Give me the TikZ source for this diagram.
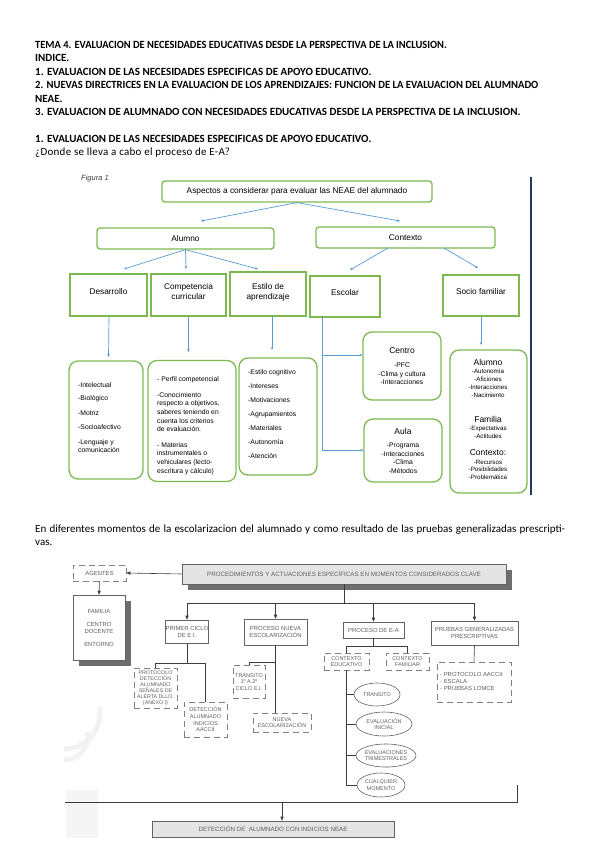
\documentclass[tikz,border=0pt]{standalone}
\usepackage{fontspec}
\usepackage{graphicx}
\setmainfont{Carlito}
\newfontfamily\arial{Liberation Sans}
\newfontfamily\carlsp[LetterSpace=2.5]{Carlito}
\usetikzlibrary{arrows.meta,shapes.geometric,shadows}
\definecolor{gr}{RGB}{125,185,80}
\definecolor{bl}{RGB}{91,155,213}
\definecolor{nv}{RGB}{31,56,100}
\definecolor{txtwo}{RGB}{95,95,95}
\definecolor{lntwo}{RGB}{60,60,60}
\definecolor{filltwo}{RGB}{228,228,228}
\definecolor{shd}{RGB}{110,110,110}
\begin{document}
\begin{tikzpicture}[x=1pt,y=-1pt,
  wh/.style args={#1/#2}{minimum width=#1pt, minimum height=#2pt},
  hdr/.style={anchor=base west, inner sep=0, font=\bfseries\fontsize{11}{13}\selectfont},
  body/.style={anchor=base west, inner sep=0, font=\fontsize{11}{13}\selectfont},
  gbox/.style={draw=gr, line width=1.3pt, rounded corners=3pt, inner sep=0, font=\arial\fontsize{8.3}{10}\selectfont},
  sbox/.style={draw=gr, line width=1.3pt, inner sep=0},
  lbox/.style={draw=gr, line width=1.3pt, rounded corners=9pt, inner sep=0},
  ttl/.style={inner sep=0, align=center, font=\arial\fontsize{8.3}{10}\selectfont},
  item/.style={anchor=base west, inner sep=0, font=\arial\fontsize{6.8}{8}\selectfont},
  citem/.style={anchor=base, inner sep=0, font=\arial\fontsize{6.8}{8}\selectfont},
  sitem/.style={anchor=base, inner sep=0, font=\arial\fontsize{6.2}{8}\selectfont},
  ctitle/.style={anchor=base, inner sep=0, font=\arial\fontsize{8.5}{10}\selectfont},
  barrow/.style={draw=bl, line width=0.7pt, -{Stealth[length=3pt,width=2.6pt]}},
  bline/.style={draw=bl, line width=0.7pt},
  dtwo/.style={draw=lntwo!80, line width=0.6pt, fill=white, inner sep=0, align=center, text=txtwo, font=\arial\fontsize{5.9}{7}\selectfont},
  dsmall/.style={dtwo, font=\arial\fontsize{5.5}{6.6}\selectfont},
  dashbx/.style={dsmall, draw=gray, dash pattern=on 6pt off 4pt},
  ell/.style={ellipse, dsmall},
  lntw/.style={draw=lntwo, line width=0.6pt},
  arrtw/.style={lntw, -{Triangle[length=4pt,width=3.2pt]}},
  shad/.style={drop shadow={shadow xshift=6pt, shadow yshift=-6pt, fill=shd, opacity=1}},
]
\useasboundingbox (0,0) rectangle (599,848);
\fill[white] (0,0) rectangle (599,848);

% ---------- header ----------
\node[hdr] (h1) at (35,48.5) {\scalebox{0.95}[1]{TEMA 4. EVALUACION DE NECESIDADES EDUCATIVAS DESDE LA PERSPECTIVA DE LA INCLUSION.}};
\node[hdr] (h2) at (35,61.9) {INDICE.};
\node[hdr] (h3) at (35,75.3) {1. EVALUACION DE LAS NECESIDADES ESPECIFICAS DE APOYO EDUCATIVO.};
\node[hdr] (h4) at (35,88.7) {\scalebox{0.965}[1]{2. NUEVAS DIRECTRICES EN LA EVALUACION DE LOS APRENDIZAJES: FUNCION DE LA EVALUACION DEL ALUMNADO}};
\node[hdr] (h5) at (35,102.1) {NEAE.};
\node[hdr] (h6) at (35,115.5) {3. EVALUACION DE ALUMNADO CON NECESIDADES EDUCATIVAS DESDE LA PERSPECTIVA DE LA INCLUSION.};
\node[hdr] (h7) at (35,142.3) {1. EVALUACION DE LAS NECESIDADES ESPECIFICAS DE APOYO EDUCATIVO.};
\node[body, font=\carlsp\fontsize{11}{13}\selectfont] (h8) at (35,155.7) {¿Donde se lleva a cabo el proceso de E-A?};

% ---------- figure 1 ----------
\node[anchor=base west, inner sep=0, text=lntwo, font=\arial\itshape\fontsize{7.5}{9}\selectfont] (fig) at (81,180.5) {Figura 1};
\node[gbox, wh=270/21] (top) at (297,191.5) {Aspectos a considerar para evaluar las NEAE del alumnado};
\node[gbox, wh=177/21] (alumno) at (185.5,238.5) {Alumno};
\node[gbox, wh=179/21] (contexto) at (405.5,237.5) {Contexto};

\node[sbox, wh=77/42] (des) at (108.5,295) {};
\node[ttl] (desT) at (108.5,292) {Desarrollo};
\node[sbox, wh=75/42] (comp) at (188.5,295) {};
\node[ttl] (compT) at (188.5,292) {Competencia\\curricular};
\node[sbox, wh=76/44] (est) at (268,294) {};
\node[ttl] (estT) at (268,292) {Estilo de\\aprendizaje};
\node[sbox, wh=70/41] (esc) at (345,296.5) {};
\node[ttl] (escT) at (345,293) {Escolar};
\node[sbox, wh=76/41] (soc) at (481,295.5) {};
\node[ttl] (socT) at (481,292) {Socio familiar};

\coordinate (a1) at (201,221); \coordinate (a2) at (400,221);
\draw[barrow] (top.south) -- (a1);
\draw[barrow] (top.south) -- (a2);
\coordinate (a3) at (124,269); \coordinate (a4) at (186,269); \coordinate (a5) at (258,269);
\draw[barrow] (alumno.south) -- (a3);
\draw[barrow] (alumno.south) -- (a4);
\draw[barrow] (alumno.south) -- (a5);
\coordinate (c1) at (388,248); \coordinate (a6) at (350,270);
\coordinate (c2) at (444,248); \coordinate (a7) at (478,268);
\draw[barrow] (c1) -- (a6);
\draw[barrow] (c2) -- (a7);

% list boxes
\node[lbox, wh=74/118] (ldes) at (106,420) {};
\node[lbox, wh=88/121] (lcomp) at (192,421) {};
\node[lbox, wh=78/117] (lest) at (278,416.5) {};
\node[lbox, wh=78/68] (centro) at (402,366) {};
\node[lbox, wh=78/63] (aula) at (403,450.5) {};
\node[lbox, wh=77/143] (lsoc) at (488.5,421.5) {};

\coordinate (a8) at (108.5,357);
\draw[barrow] ([xshift=0.5pt]des.south) -- (a8);
\coordinate (a9) at (188.5,352);
\draw[barrow] (comp.south) -- (a9);
\coordinate (s10) at (272,316); \coordinate (a10) at (272,350);
\draw[barrow] (s10) -- (a10);
\coordinate (a11) at (481,345);
\draw[barrow] (soc.south) -- (a11);
\coordinate (e0) at (322,317); \coordinate (e1) at (322,355); \coordinate (e2) at (322,450);
\draw[bline] (e0) -- (e2);
\draw[barrow] (e1) -- (e1 -| centro.west);
\draw[barrow] (e2) -- (e2 -| aula.west);

\foreach \y/\t [count=\i] in {385/-Intelectual, 398/-Biológico, 413/-Motriz, 427/-Socioafectivo, 442/-Lenguaje y, 450/comunicación}
  \node[item] (ld\i) at (78,\y+2.5) {\t};
\foreach \y/\t [count=\i] in {379/- Perfil competencial, 395/-Conocimiento, 403/{respecto a objetivos,}, 412/saberes teniendo en, 421/cuenta los criterios, 429/de evaluación., 445/- Materias, 453/instrumentales o, 462/vehiculares (lecto-, 471/escritura y cálculo)}
  \node[item] (lc\i) at (157,\y+2.5) {\t};
\foreach \y/\t [count=\i] in {372/-Estilo cognitivo, 386/-Intereses, 400/-Motivaciones, 414/-Agrupamientos, 428/-Materiales, 442/-Autonomía, 456/-Atención}
  \node[item] (le\i) at (248,\y+2.5) {\t};

\node[ctitle] (centroT) at (402,353) {Centro};
\foreach \y/\t [count=\i] in {365/-PFC, 374/-Clima y cultura, 382/-Interacciones}
  \node[citem] (lce\i) at (402,\y+2.5) {\t};
\node[ctitle] (aulaT) at (403,434) {Aula};
\foreach \y/\t [count=\i] in {445/-Programa, 454/-Interacciones, 462/-Clima, 471/-Métodos}
  \node[citem] (lau\i) at (403,\y+2.5) {\t};
\node[ctitle] (sa) at (488,365) {Alumno};
\node[ctitle] (sf) at (488,422) {Familia};
\node[ctitle] (sc) at (488,455) {Contexto:};
\foreach \y/\t [count=\i] in {371/-Autonomía, 379/-Aficiones, 387/-Interacciones, 395/-Nacimiento, 428/-Expectativas, 436/-Actitudes, 462/-Recursos, 469/-Posibilidades, 477/-Problemática}
  \node[sitem] (ls\i) at (488,\y+2.3) {\t};

\coordinate (n1) at (531,177); \coordinate (n2) at (531,495);
\draw[nv, line width=1.5pt] (n1) -- (n2);

% ---------- paragraph ----------
\node[body] (p1) at (35,532) {\makebox[530pt][s]{En diferentes momentos de la escolarizacion del alumnado y como resultado de las pruebas generalizadas prescripti-}};
\node[body] (p2) at (35,545.4) {vas.};

% ---------- watermark ----------
\draw[gray!10, line width=5pt] (64,749) arc[start angle=90, end angle=-10, radius=36];
\draw[gray!10, line width=5pt] (64,760) arc[start angle=90, end angle=-10, radius=24];
\fill[gray!8] (66,790) rectangle (98,838);

% ---------- diagram 2 ----------
\node[dtwo, fill=filltwo, shad, wh=324/20, font=\arial\fontsize{6.2}{7}\selectfont] (proc) at (344,574) {PROCEDIMIENTOS Y ACTUACIONES ESPECÍFICAS EN MOMENTOS CONSIDERADOS CLAVE};
\node[dtwo, draw=gray, dash pattern=on 6pt off 4pt, wh=53/16] (agentes) at (99.5,573) {AGENTES};
\node[dtwo, shad, wh=52/65] (familia) at (99,627.5) {};
\foreach \y/\t [count=\i] in {611/FAMILIA, 624/CENTRO, 631/DOCENTE, 644/ENTORNO}
  \node[anchor=base, inner sep=0, text=txtwo, font=\arial\fontsize{5.9}{7}\selectfont] (fa\i) at (99,\y+2) {\t};
\draw[arrtw] (proc.west) -- (agentes.east);
\draw[arrtw] (agentes.south) -- (familia.north);

\node[dtwo, wh=42/23] (primer) at (187,631.5) {PRIMER CICLO\\DE E.I.};
\node[dtwo, wh=63/26] (nueva) at (275.5,632) {PROCESO NUEVA\\ESCOLARIZACIÓN};
\node[dtwo, wh=61/16] (pea) at (373.5,630) {PROCESO DE E-A};
\node[dtwo, wh=87/24] (pruebas) at (474.5,633) {PRUEBAS GENERALIZADAS\\PRESCRIPTIVAS};

\coordinate (hl) at (344,603); \coordinate (hA) at (187,603); \coordinate (hB) at (474.5,603);
\draw[lntw] (proc.south) -- (hl);
\draw[lntw] (hA) -- (hB);
\draw[arrtw] (hA) -- (primer.north);
\draw[arrtw] (hl -| nueva.north) -- (nueva.north);
\draw[arrtw] (hl -| pea.north) -- (pea.north);
\draw[arrtw] (hB) -- (pruebas.north);

% primer subtree
\node[dashbx, wh=43/40, font=\arial\fontsize{5.3}{6.1}\selectfont] (protocolo) at (155.5,688) {PROTOCOLO\\DETECCIÓN\\ALUMNADO\\SEÑALES DE\\ALERTA DLLO.\\(ANEXO I)};
\node[dashbx, wh=43/35] (deteccion) at (205.5,719.5) {DETECCIÓN\\ALUMNADO\\INDICIOS\\AACCII};
\coordinate (p0) at (187,663);
\draw[lntw] (primer.south) -- (p0);
\draw[lntw] (p0 -| protocolo.north) -- (protocolo.north);
\draw[lntw] (p0 -| protocolo.north) -- (p0 -| deteccion.north) -- (deteccion.north);

% nueva subtree
\node[dashbx, wh=32/33] (transito) at (249,681.5) {TRÁNSITO\\1º A 2º\\CICLO E.I.};
\node[dashbx, wh=58/19] (nuevaesc) at (282,722.5) {NUEVA\\ESCOLARIZACIÓN};
\coordinate (q0) at (275.5,662); \coordinate (q1) at (275.5,713);
\draw[lntw] (nueva.south) -- (q1);
\draw[lntw] (q0) -- (q0 -| transito.north) -- (transito.north);

% E-A subtree
\node[dashbx, wh=45/17] (ctxedu) at (346.5,661.5) {CONTEXTO\\EDUCATIVO};
\node[dashbx, wh=43/17] (ctxfam) at (407.5,661.5) {CONTEXTO\\FAMILIAR};
\coordinate (r0) at (373.5,646);
\draw[lntw] (pea.south) -- (r0);
\draw[lntw] (r0 -| ctxedu.north) -- (ctxedu.north);
\draw[lntw] (r0 -| ctxedu.north) -- (r0 -| ctxfam.north) -- (ctxfam.north);
\node[ell, wh=46/23] (el1) at (377,694.5) {TRANSITO};
\node[ell, wh=56/24] (el2) at (384,724) {EVALUACIÓN\\INICIAL};
\node[ell, wh=56/23] (el3) at (386,755.5) {EVALUACIONES\\TRIMESTRALES};
\node[ell, wh=48/24] (el4) at (381,785) {CUALQUIER\\MOMENTO};
\draw[lntw] (ctxedu.south) -- (ctxedu.south |- el4.west) -- (el4.west);
\draw[lntw] (ctxedu.south |- el1.west) -- (el1.west);
\draw[lntw] (ctxedu.south |- el2.west) -- (el2.west);
\draw[lntw] (ctxedu.south |- el3.west) -- (el3.west);

% pruebas subtree
\node[dashbx, wh=74/40] (lista) at (474,682) {};
\node[anchor=north west, inner sep=0, align=left, text=txtwo, font=\arial\fontsize{5.9}{7.3}\selectfont] (listaT) at (440,672) {- PROTOCOLO AACCII\\- ESCALA\\- PRUEBAS LOMCE};
\draw[lntw] (pruebas.south) -- (lista.north);

% bottom
\node[dtwo, fill=filltwo, wh=242/16, font=\arial\fontsize{6.2}{7}\selectfont] (det) at (273,829) {DETECCIÓN DE ~ALUMNADO CON INDICIOS NEAE};
\coordinate (b0) at (65,802); \coordinate (b1) at (517,802); \coordinate (b2) at (517,785); \coordinate (b3) at (282,802);
\draw[lntw] (b0) -- (b1) -- (b2);
\draw[arrtw] (b3) -- (b3 |- det.north);
\end{tikzpicture}
\end{document}
